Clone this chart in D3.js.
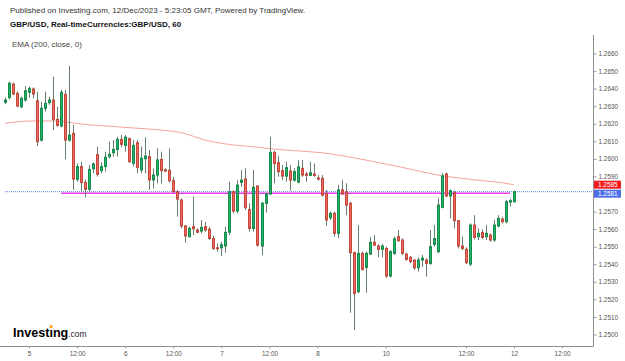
<!DOCTYPE html>
<html>
<head>
<meta charset="utf-8">
<script src="https://cdn.jsdelivr.net/npm/d3@7"></script>
<style>
    body { margin: 0; background: #fff; }
    svg { display: block; font-family: "Liberation Sans", Arial, sans-serif; }
</style>
</head>
<body>
<div id="chartDiv"></div>
<script>
// hourly GBP/USD bars
const barOpen = [
    1.26322, 1.26349, 1.26426, 1.26373, 1.26297, 1.26335, 1.26379, 1.26398, 1.26331, 1.26107,
    1.26288, 1.26320, 1.26335, 1.26225, 1.26187, 1.26367, 1.26107, 1.26145, 1.25884, 1.25956,
    1.25866, 1.25827, 1.25944, 1.26024, 1.25933, 1.25956, 1.26013, 1.26035, 1.26054, 1.26111,
    1.26077, 1.26115, 1.25975, 1.26092, 1.25937, 1.26001, 1.26013, 1.25880, 1.25908, 1.25997,
    1.25938, 1.25935, 1.25876, 1.25813, 1.25766, 1.25618, 1.25557, 1.25614, 1.25595, 1.25589,
    1.25614, 1.25599, 1.25547, 1.25494, 1.25494, 1.25504, 1.25582, 1.25813, 1.25703, 1.25866,
    1.25885, 1.25712, 1.25604, 1.25845, 1.25504, 1.25747, 1.25800, 1.26037, 1.25978, 1.25933,
    1.25902, 1.25931, 1.25879, 1.25868, 1.25946, 1.25914, 1.25906, 1.25914, 1.25891, 1.25889,
    1.25804, 1.25665, 1.25690, 1.25576, 1.25823, 1.25813, 1.25747, 1.25466, 1.25244, 1.25462,
    1.25382, 1.25458, 1.25525, 1.25504, 1.25485, 1.25490, 1.25333, 1.25462, 1.25557, 1.25538,
    1.25458, 1.25439, 1.25424, 1.25380, 1.25424, 1.25424, 1.25405, 1.25513, 1.25472, 1.25724,
    1.25914, 1.25789, 1.25808, 1.25648, 1.25504, 1.25485, 1.25401, 1.25623, 1.25557, 1.25580,
    1.25557, 1.25566, 1.25538, 1.25618, 1.25657, 1.25642, 1.25754, 1.25756
];
const barHigh = [
    1.26350, 1.26440, 1.26434, 1.26383, 1.26354, 1.26415, 1.26411, 1.26407, 1.26383, 1.26326,
    1.26383, 1.26354, 1.26468, 1.26297, 1.26392, 1.26392, 1.26529, 1.26193, 1.25975, 1.25984,
    1.25880, 1.25965, 1.25980, 1.26070, 1.25980, 1.26041, 1.26098, 1.26107, 1.26126, 1.26136,
    1.26136, 1.26123, 1.26107, 1.26107, 1.26070, 1.26123, 1.26051, 1.25946, 1.26060, 1.26041,
    1.25946, 1.26060, 1.25898, 1.25822, 1.25775, 1.25623, 1.25614, 1.25785, 1.25604, 1.25652,
    1.25642, 1.25614, 1.25561, 1.25519, 1.25528, 1.25614, 1.25870, 1.25822, 1.25879, 1.25936,
    1.25946, 1.25747, 1.25936, 1.25851, 1.25756, 1.25807, 1.26126, 1.26047, 1.26016, 1.25965,
    1.25984, 1.25965, 1.25946, 1.25993, 1.25993, 1.25927, 1.25984, 1.25974, 1.25908, 1.25908,
    1.25823, 1.25699, 1.25699, 1.25851, 1.25880, 1.25861, 1.25756, 1.25472, 1.25623, 1.25472,
    1.25472, 1.25557, 1.25566, 1.25515, 1.25515, 1.25500, 1.25481, 1.25557, 1.25595, 1.25548,
    1.25466, 1.25447, 1.25428, 1.25439, 1.25453, 1.25434, 1.25595, 1.25623, 1.25775, 1.25918,
    1.25922, 1.25826, 1.25819, 1.25652, 1.25557, 1.25496, 1.25633, 1.25680, 1.25604, 1.25599,
    1.25623, 1.25576, 1.25652, 1.25680, 1.25671, 1.25766, 1.25775, 1.25819
];
const barLow = [
    1.26312, 1.26339, 1.26364, 1.26293, 1.26288, 1.26326, 1.26349, 1.26345, 1.26073, 1.26098,
    1.26269, 1.26307, 1.26164, 1.26183, 1.26180, 1.25997, 1.26098, 1.25823, 1.25870, 1.25813,
    1.25781, 1.25808, 1.25918, 1.25899, 1.25918, 1.25927, 1.26003, 1.26013, 1.26013, 1.26066,
    1.26041, 1.25978, 1.25956, 1.25918, 1.25918, 1.25918, 1.25823, 1.25832, 1.25861, 1.25860,
    1.25925, 1.25864, 1.25807, 1.25671, 1.25604, 1.25523, 1.25553, 1.25566, 1.25576, 1.25576,
    1.25585, 1.25538, 1.25481, 1.25471, 1.25447, 1.25466, 1.25566, 1.25690, 1.25690, 1.25841,
    1.25709, 1.25585, 1.25585, 1.25500, 1.25452, 1.25694, 1.25794, 1.25860, 1.25898, 1.25879,
    1.25870, 1.25819, 1.25870, 1.25860, 1.25898, 1.25870, 1.25902, 1.25898, 1.25876, 1.25785,
    1.25618, 1.25652, 1.25557, 1.25548, 1.25794, 1.25680, 1.25124, 1.25026, 1.25234, 1.25363,
    1.25238, 1.25453, 1.25504, 1.25439, 1.25439, 1.25320, 1.25325, 1.25453, 1.25528, 1.25453,
    1.25420, 1.25405, 1.25367, 1.25358, 1.25386, 1.25329, 1.25396, 1.25500, 1.25462, 1.25718,
    1.25781, 1.25661, 1.25604, 1.25490, 1.25481, 1.25401, 1.25390, 1.25542, 1.25538, 1.25542,
    1.25538, 1.25528, 1.25528, 1.25610, 1.25633, 1.25633, 1.25728, 1.25751
];
const barClose = [
    1.26335, 1.26430, 1.26369, 1.26301, 1.26345, 1.26388, 1.26402, 1.26369, 1.26098, 1.26288,
    1.26316, 1.26335, 1.26225, 1.26191, 1.26379, 1.26107, 1.26136, 1.25885, 1.25956, 1.25865,
    1.25827, 1.25940, 1.25971, 1.25912, 1.25956, 1.26009, 1.26026, 1.26054, 1.26111, 1.26083,
    1.26123, 1.25984, 1.26077, 1.25952, 1.26003, 1.26016, 1.25880, 1.25908, 1.25994, 1.25933,
    1.25931, 1.25876, 1.25813, 1.25771, 1.25618, 1.25561, 1.25604, 1.25602, 1.25582, 1.25610,
    1.25595, 1.25547, 1.25490, 1.25489, 1.25511, 1.25582, 1.25813, 1.25703, 1.25851, 1.25879,
    1.25722, 1.25604, 1.25838, 1.25509, 1.25747, 1.25800, 1.26037, 1.25974, 1.25927, 1.25902,
    1.25950, 1.25879, 1.25927, 1.25954, 1.25908, 1.25906, 1.25921, 1.25906, 1.25885, 1.25794,
    1.25652, 1.25690, 1.25576, 1.25823, 1.25800, 1.25737, 1.25466, 1.25234, 1.25462, 1.25371,
    1.25462, 1.25525, 1.25509, 1.25485, 1.25504, 1.25333, 1.25472, 1.25544, 1.25534, 1.25462,
    1.25428, 1.25415, 1.25380, 1.25424, 1.25435, 1.25405, 1.25500, 1.25546, 1.25737, 1.25903,
    1.25789, 1.25819, 1.25648, 1.25504, 1.25490, 1.25409, 1.25623, 1.25553, 1.25576, 1.25553,
    1.25576, 1.25538, 1.25623, 1.25661, 1.25642, 1.25756, 1.25762, 1.25813
];

// EMA(200) line, sampled at these bars
const emaBars = [0, 7, 13, 16, 20, 24, 28, 32, 39, 44, 50, 55, 62, 67, 72, 79, 84, 89, 94, 99, 104, 109, 114, 119, 124, 127];
const emaValues = [1.26203, 1.26216, 1.26216, 1.26208, 1.26196, 1.26189, 1.26183, 1.26176, 1.26164, 1.26149,
    1.26107, 1.26085, 1.26069, 1.26056, 1.26047, 1.26035, 1.26018, 1.25998, 1.25975, 1.25952,
    1.25927, 1.25904, 1.25889, 1.25876, 1.25864, 1.25853];

// horizontal line drawn on the chart
const levelPrice = 1.25804;
const levelBars = [14, 126];

const priceTicks = [1.2500, 1.2510, 1.2520, 1.2530, 1.2540, 1.2550, 1.2560, 1.2570,
    1.2590, 1.2600, 1.2610, 1.2620, 1.2630, 1.2640, 1.2650, 1.2660];
const timeTickBars = [6, 18, 30, 42, 54, 66, 78, 95, 115, 127, 139];
const timeTickLabels = ['5', '12:00', '6', '12:00', '7', '12:00', '8', '10', '12:00', '12', '12:00'];

class CandleChart {
    constructor() {
        this.width = 625;
        this.height = 361;
        this.axisX = 593.5;
        this.axisY = 346.5;
        this.x = d3.scaleLinear().domain([0, 127]).range([5, 514]);
        this.y = d3.scaleLinear().domain([1.2500, 1.2660]).range([334.5, 53.5]);
        this.drawChart();
    }

    drawChart() {
        let x = this.x, y = this.y;

        this.svg = d3.select('#chartDiv')
            .append('svg')
            .attr('width', this.width)
            .attr('height', this.height);

        // header texts
        this.svg.append('text')
            .text('Published on Investing.com, 12/Dec/2023 - 5:23:05 GMT, Powered by TradingView.')
            .attr('x', 10).attr('y', 13)
            .style('font-size', '8px').style('fill', '#333');
        this.svg.append('text')
            .text('GBP/USD, Real-timeCurrencies:GBP/USD, 60')
            .attr('x', 10).attr('y', 27)
            .style('font-size', '8px').style('font-weight', 'bold').style('fill', '#111');
        this.svg.append('text')
            .text('EMA (200, close, 0)')
            .attr('x', 12).attr('y', 47)
            .style('font-size', '8px').style('fill', '#444');

        // axes
        let yAxis = d3.axisRight(y)
            .tickValues(priceTicks)
            .tickSize(3)
            .tickPadding(2)
            .tickFormat(d3.format('.4f'));
        let yg = this.svg.append('g')
            .attr('transform', 'translate(' + this.axisX + ',0)')
            .call(yAxis);
        yg.select('.domain').remove();
        yg.selectAll('line').style('stroke', '#999');
        yg.selectAll('text').style('font-size', '6.4px').style('fill', '#555').attr('font-family', null);

        let xAxis = d3.axisBottom(x)
            .tickValues(timeTickBars)
            .tickSize(2)
            .tickPadding(3)
            .tickFormat((d, i) => timeTickLabels[i]);
        let xg = this.svg.append('g')
            .attr('transform', 'translate(0,' + this.axisY + ')')
            .call(xAxis);
        xg.select('.domain').remove();
        xg.selectAll('line').style('stroke', '#999');
        xg.selectAll('text').style('font-size', '6.4px').style('fill', '#555').attr('font-family', null);

        this.svg.append('line')
            .attr('x1', 0).attr('x2', this.axisX)
            .attr('y1', this.axisY).attr('y2', this.axisY)
            .style('stroke', '#8f8f8f');
        this.svg.append('line')
            .attr('x1', this.axisX).attr('x2', this.axisX)
            .attr('y1', 35).attr('y2', this.axisY)
            .style('stroke', '#8f8f8f');

        // EMA
        let emaLine = d3.line()
            .x((d, i) => x(emaBars[i]))
            .y(d => y(d))
            .curve(d3.curveMonotoneX);
        this.svg.append('path')
            .attr('d', emaLine(emaValues))
            .style('fill', 'none')
            .style('stroke', '#f3a39b')
            .style('stroke-width', 1);

        // last price line
        let lastClose = barClose[barClose.length - 1];
        this.svg.append('line')
            .attr('x1', x(0)).attr('x2', this.axisX)
            .attr('y1', y(lastClose)).attr('y2', y(lastClose))
            .style('stroke', '#5a7cf2')
            .style('stroke-width', 1)
            .style('stroke-dasharray', '1,1');

        // drawn level
        this.svg.append('line')
            .attr('x1', x(levelBars[0])).attr('x2', x(levelBars[1]))
            .attr('y1', y(levelPrice)).attr('y2', y(levelPrice))
            .style('stroke', '#ee3cee')
            .style('stroke-width', 1.6);

        // candles
        let candles = this.svg.append('g').classed('candles', true);
        barOpen.forEach((o, i) => {
            let c = barClose[i];
            let up = c >= o;
            let cx = Math.round(x(i));
            candles.append('line')
                .attr('x1', cx + 0.5).attr('x2', cx + 0.5)
                .attr('y1', y(barHigh[i])).attr('y2', y(barLow[i]))
                .style('stroke', '#66806f')
                .style('stroke-width', 1);
            let top = y(Math.max(o, c));
            let h = Math.max(1, y(Math.min(o, c)) - top);
            candles.append('rect')
                .attr('x', cx - 0.5).attr('width', 2)
                .attr('y', top).attr('height', h)
                .style('fill', up ? '#25b46c' : '#f26a5c')
                .style('stroke', up ? '#168a4b' : '#c4473b')
                .style('stroke-width', 1);
        });

        // price labels on the axis
        let emaLast = emaValues[emaValues.length - 1];
        let boxH = 8;
        let redY = y(emaLast);
        let blueY = Math.max(y(lastClose), redY + boxH + 1);
        [[redY, emaLast, '#f21a1a'], [blueY, lastClose, '#4e6fe6']].forEach(([cy, v, col]) => {
            this.svg.append('rect')
                .attr('x', this.axisX + 0.5).attr('y', cy - boxH / 2)
                .attr('width', 27).attr('height', boxH)
                .style('fill', col);
            this.svg.append('text')
                .text(v.toFixed(4))
                .attr('x', this.axisX + 4.5).attr('y', cy)
                .attr('dy', '0.35em')
                .style('font-size', '6.4px').style('fill', '#fff');
        });

        // logo
        let logo = this.svg.append('text')
            .attr('x', 13).attr('y', 337)
            .style('font-size', '12.6px').style('font-weight', 'bold').style('fill', '#000');
        logo.append('tspan').text('Invest\u0131ng');
        logo.append('tspan').text('.com')
            .style('font-size', '8.4px').style('font-weight', 'normal').style('fill', '#222');
        let node = logo.node();
        let dotX = 13 + node.getSubStringLength(0, 6) + node.getSubStringLength(6, 1) / 2;
        this.svg.append('rect')
            .attr('x', dotX - 1.3).attr('y', 325.2)
            .attr('width', 2.6).attr('height', 2.8)
            .style('fill', '#f5a01a');
    }
}

new CandleChart();
</script>
</body>
</html>
